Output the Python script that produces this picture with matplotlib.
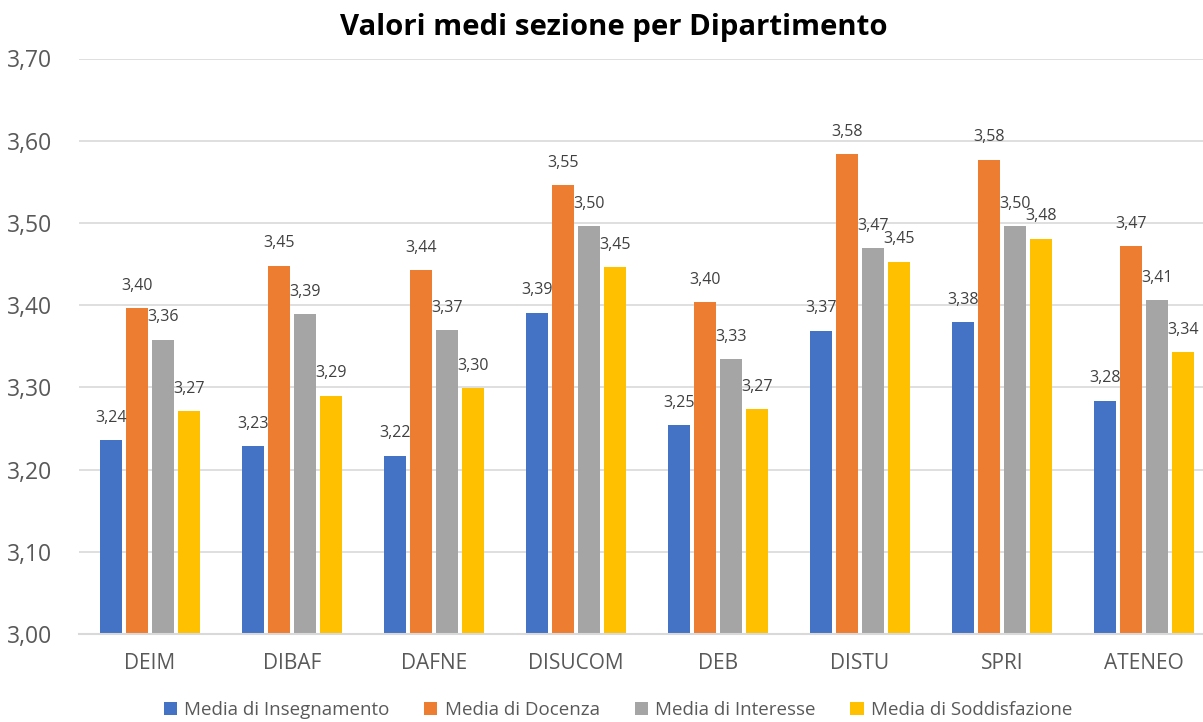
import numpy as np
import matplotlib
matplotlib.use("Agg")
import matplotlib.pyplot as plt

plt.rcParams['font.family'] = ['Open Sans', 'DejaVu Sans']

departments = ["DEIM", "DIBAF", "DAFNE", "DISUCOM", "DEB", "DISTU", "SPRI", "ATENEO"]
series_names = ["Media di Insegnamento", "Media di Docenza", "Media di Interesse", "Media di Soddisfazione"]
insegnamento = [3.236, 3.229, 3.217, 3.391, 3.254, 3.369, 3.379, 3.284]
docenza = [3.396, 3.448, 3.443, 3.546, 3.404, 3.584, 3.577, 3.472]
interesse = [3.358, 3.389, 3.370, 3.496, 3.334, 3.469, 3.496, 3.406]
soddisfazione = [3.271, 3.290, 3.299, 3.446, 3.274, 3.453, 3.481, 3.343]
yticks = [3.0, 3.1, 3.2, 3.3, 3.4, 3.5, 3.6, 3.7]

colors = ["#4472C4", "#ED7D31", "#A5A5A5", "#FFC000"]
text_col = "#595959"

W, H = 1203, 722
fig = plt.figure(figsize=(W / 100, H / 100), dpi=100)
ax = fig.add_axes([79 / W, (H - 634) / H, (1215 - 79) / W, (634 - 58.5) / H])

x = np.arange(len(departments))
bw = 0.155
step = 0.185
all_series = [insegnamento, docenza, interesse, soddisfazione]
for i, vals in enumerate(all_series):
    pos = x + (i - 1.5) * step
    ax.bar(pos, vals, width=bw, color=colors[i], label=series_names[i], zorder=3)
    for px, v in zip(pos, vals):
        ax.annotate(f"{v:.2f}".replace(".", ","), (px, v), xytext=(0, 16),
                    textcoords="offset points", ha="center", va="center",
                    fontsize=11.5, color="#404040", zorder=4)

ax.set_xlim(-0.5, len(departments) - 0.5)
ax.set_ylim(3.0, 3.7)
ax.set_yticks(yticks)
ax.set_yticklabels([f"{t:.2f}".replace(".", ",") for t in yticks])
ax.set_xticks(x)
ax.set_xticklabels(departments)
ax.tick_params(axis="y", length=0, pad=19.5, labelsize=16.5, labelcolor=text_col)
ax.tick_params(axis="x", length=0, pad=14, labelsize=15, labelcolor=text_col)
ax.grid(axis="y", color="#D9D9D9", linewidth=1.2, zorder=0)
for s in ["top", "right", "left"]:
    ax.spines[s].set_visible(False)
ax.spines["bottom"].set_color("#D9D9D9")
ax.spines["bottom"].set_linewidth(1.5)
ax.spines["bottom"].set_zorder(5)

fig.text(614 / W, 1 - 28 / H, "Valori medi sezione per Dipartimento", ha="center", va="center",
         fontsize=21.2, fontweight="bold", color="black")

fig.legend(loc="center", bbox_to_anchor=(618 / W, 1 - 710 / H), ncol=4, frameon=False,
           fontsize=13.5, labelcolor=text_col, handlelength=0.7, handleheight=0.7,
           handletextpad=0.4, columnspacing=1.85)

fig.savefig("out.png", dpi=100)
